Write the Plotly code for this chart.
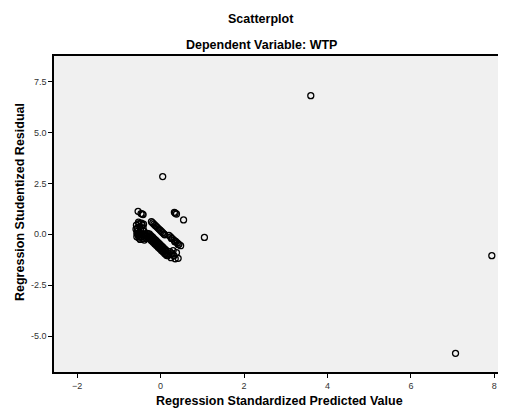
import plotly.graph_objects as go

# Regression Standardized Predicted Value (x) and Studentized Residual (y)
pred = [
    # outliers / isolated
    3.60, 7.94, 7.07, 0.05, 1.05,
    # upper-left pair
    -0.54, -0.47, -0.44, -0.42,
    # upper-right group
    0.33, 0.35, 0.38, 0.55,
    # left mass
    -0.58, -0.56, -0.55, -0.57, -0.54, -0.52, -0.50, -0.48, -0.50, -0.47,
    -0.45, -0.44, -0.42, -0.40, -0.38, -0.36, -0.34, -0.53, -0.46, -0.41,
    -0.59, -0.57, -0.52, -0.49, -0.43, -0.39, -0.55, -0.51,
    # upper band
    -0.22, -0.19, -0.16, -0.13, -0.10, -0.07, -0.04, -0.01, 0.02, 0.05, 0.08, 0.10,
    # main dense band
    -0.32, -0.28, -0.24, -0.20, -0.16, -0.12, -0.08, -0.04, 0.00, 0.04, 0.08, 0.12,
    -0.30, -0.26, -0.22, -0.18, -0.14, -0.10, -0.06, -0.02, 0.02, 0.06, 0.10, 0.14, 0.18,
    -0.33, -0.29, -0.25, -0.21, -0.17, -0.13, -0.09, -0.05, -0.01, 0.03, 0.07,
    -0.27, -0.23, -0.19, -0.15, -0.11, -0.07, -0.03, 0.01, 0.05, 0.09, 0.13,
    # right streak
    0.20, 0.24, 0.28, 0.32, 0.36, 0.40, 0.44, 0.48, 0.26, 0.34, 0.42,
    # lower points
    0.22, 0.28, 0.32, 0.38, 0.25, 0.35, 0.42, 0.30, 0.17, 0.20,
]
resid = [
    6.82, -1.05, -5.85, 2.84, -0.15,
    1.13, 1.02, 1.00, 0.97,
    1.08, 1.04, 1.00, 0.71,
    0.45, 0.30, 0.15, 0.05, -0.05, 0.52, 0.38, 0.22, 0.10, -0.02,
    -0.12, 0.45, 0.30, 0.15, 0.00, -0.10, -0.20, 0.60, 0.55, 0.50,
    0.25, -0.12, -0.18, -0.25, -0.22, -0.28, 0.02, -0.10,
    0.62, 0.56, 0.50, 0.44, 0.38, 0.32, 0.26, 0.20, 0.14, 0.08, 0.02, -0.02,
    0.05, -0.03, -0.11, -0.19, -0.27, -0.35, -0.43, -0.51, -0.59, -0.67, -0.75, -0.83,
    -0.15, -0.23, -0.31, -0.39, -0.47, -0.55, -0.63, -0.71, -0.79, -0.87, -0.95, -1.03, -1.02,
    -0.05, -0.13, -0.21, -0.29, -0.37, -0.45, -0.53, -0.61, -0.69, -0.77, -0.85,
    0.02, -0.06, -0.14, -0.22, -0.30, -0.38, -0.46, -0.54, -0.62, -0.70, -0.78,
    -0.05, -0.13, -0.21, -0.28, -0.35, -0.42, -0.49, -0.56, -0.20, -0.36, -0.50,
    -0.85, -0.95, -1.05, -0.90, -1.15, -1.20, -1.18, -0.80, -1.05, -0.95,
]

x_ticks = [-2, 0, 2, 4, 6, 8]
y_ticks = [-5.0, -2.5, 0.0, 2.5, 5.0, 7.5]
y_tick_text = ["-5.0", "-2.5", "0.0", "2.5", "5.0", "7.5"]

fig = go.Figure()
fig.add_trace(go.Scatter(
    x=pred, y=resid, mode="markers",
    marker=dict(symbol="circle-open", size=6, color="black", line=dict(width=1.3, color="black")),
    showlegend=False, hoverinfo="skip",
))

axis_common = dict(
    showgrid=False, zeroline=False, showline=True, linecolor="black", linewidth=1.5,
    mirror=True, ticks="outside", ticklen=4, tickcolor="black", tickwidth=1,
    tickfont=dict(family="Arial, Liberation Sans", size=9, color="#333333"),
)

# page body has an 8px margin, so the figure is offset by 8px
fig.update_layout(
    width=498, height=402,
    margin=dict(l=46, r=0, t=48, b=38),
    paper_bgcolor="white", plot_bgcolor="#f0f0f0",
    font=dict(family="Arial, Liberation Sans"),
    xaxis=dict(range=[-2.556, 8.232], tickvals=x_ticks, **axis_common),
    yaxis=dict(range=[-6.77, 8.77], tickvals=y_ticks, ticktext=y_tick_text, **axis_common),
    annotations=[
        dict(text="<b>Scatterplot</b>", xref="paper", yref="paper", x=0.46, y=1,
             yshift=37, showarrow=False, xanchor="center", yanchor="middle",
             font=dict(size=12.5, color="black")),
        dict(text="<b>Dependent Variable: WTP</b>", xref="paper", yref="paper", x=0.46, y=1,
             yshift=11, showarrow=False, xanchor="center", yanchor="middle",
             font=dict(size=12.5, color="black")),
        dict(text="<b>Regression Standardized Predicted Value</b>", xref="paper", yref="paper",
             x=0.5, y=0, yshift=-29, showarrow=False, xanchor="center", yanchor="middle",
             font=dict(size=12.5, color="black")),
        dict(text="<b>Regression Studentized Residual</b>", xref="paper", yref="paper",
             x=0, xshift=-34, y=0.5, yshift=12, textangle=-90, showarrow=False,
             xanchor="center", yanchor="middle", font=dict(size=12.5, color="black")),
    ],
)

fig.write_html("out.html")
